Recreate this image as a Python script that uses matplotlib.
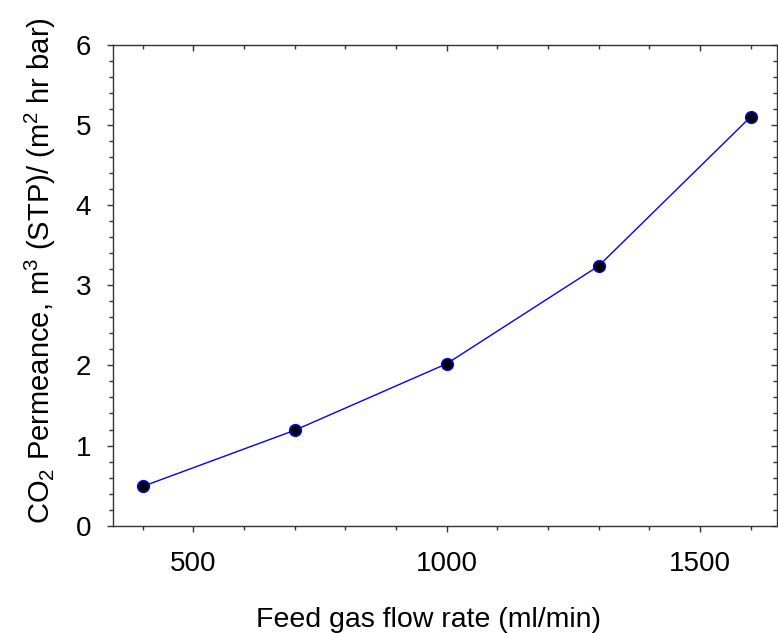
import matplotlib.pyplot as plt
from matplotlib.ticker import MultipleLocator

# Data
flow_rate = [400, 700, 1000, 1300, 1600]
permeance = [0.49, 1.19, 2.02, 3.24, 5.10]

plt.rcParams['font.family'] = ['Liberation Sans', 'DejaVu Sans']
plt.rcParams['mathtext.fontset'] = 'custom'
plt.rcParams['mathtext.rm'] = 'Liberation Sans'

fig = plt.figure(figsize=(7.78, 6.33), dpi=100)
ax = fig.add_axes([0.1449, 0.1695, 0.8538, 0.7599])

ax.plot(flow_rate, permeance, color='#0000ff', linewidth=1.0,
        marker='o', markersize=8.5, markerfacecolor='black',
        markeredgecolor='#0000ff', markeredgewidth=1.0)

ax.set_xlim(341, 1652)
ax.set_ylim(0, 6)
ax.xaxis.set_major_locator(MultipleLocator(500))
ax.xaxis.set_minor_locator(MultipleLocator(100))
ax.yaxis.set_major_locator(MultipleLocator(1))
ax.yaxis.set_minor_locator(MultipleLocator(0.2))

for side in ['left', 'bottom', 'top', 'right']:
    ax.spines[side].set_linewidth(1.0)
    ax.spines[side].set_color('#333333')

ax.tick_params(axis='both', which='major', direction='out', length=4.5,
               width=1.0, labelsize=20, color='#333333')
ax.tick_params(axis='both', which='minor', direction='out', length=3,
               width=1.0, color='#333333')
ax.tick_params(axis='x', which='major', pad=14)
ax.tick_params(axis='y', which='major', pad=11)
ax.tick_params(top=True, right=True, which='both')

# top/right ticks point inward
for tick in ax.xaxis.get_major_ticks() + ax.xaxis.get_minor_ticks():
    tick.tick2line.set_marker(3)
for tick in ax.yaxis.get_major_ticks() + ax.yaxis.get_minor_ticks():
    tick.tick2line.set_marker(0)

ax.set_xlabel('Feed gas flow rate (ml/min)', fontsize=20.5)
ax.set_ylabel('CO$_2$ Permeance, m$^3$ (STP)/ (m$^2$ hr bar)', fontsize=21)
ax.xaxis.set_label_coords(0.475, -0.168)
ax.yaxis.set_label_coords(-0.083, 0.53)

plt.savefig('out.png', dpi=100)
